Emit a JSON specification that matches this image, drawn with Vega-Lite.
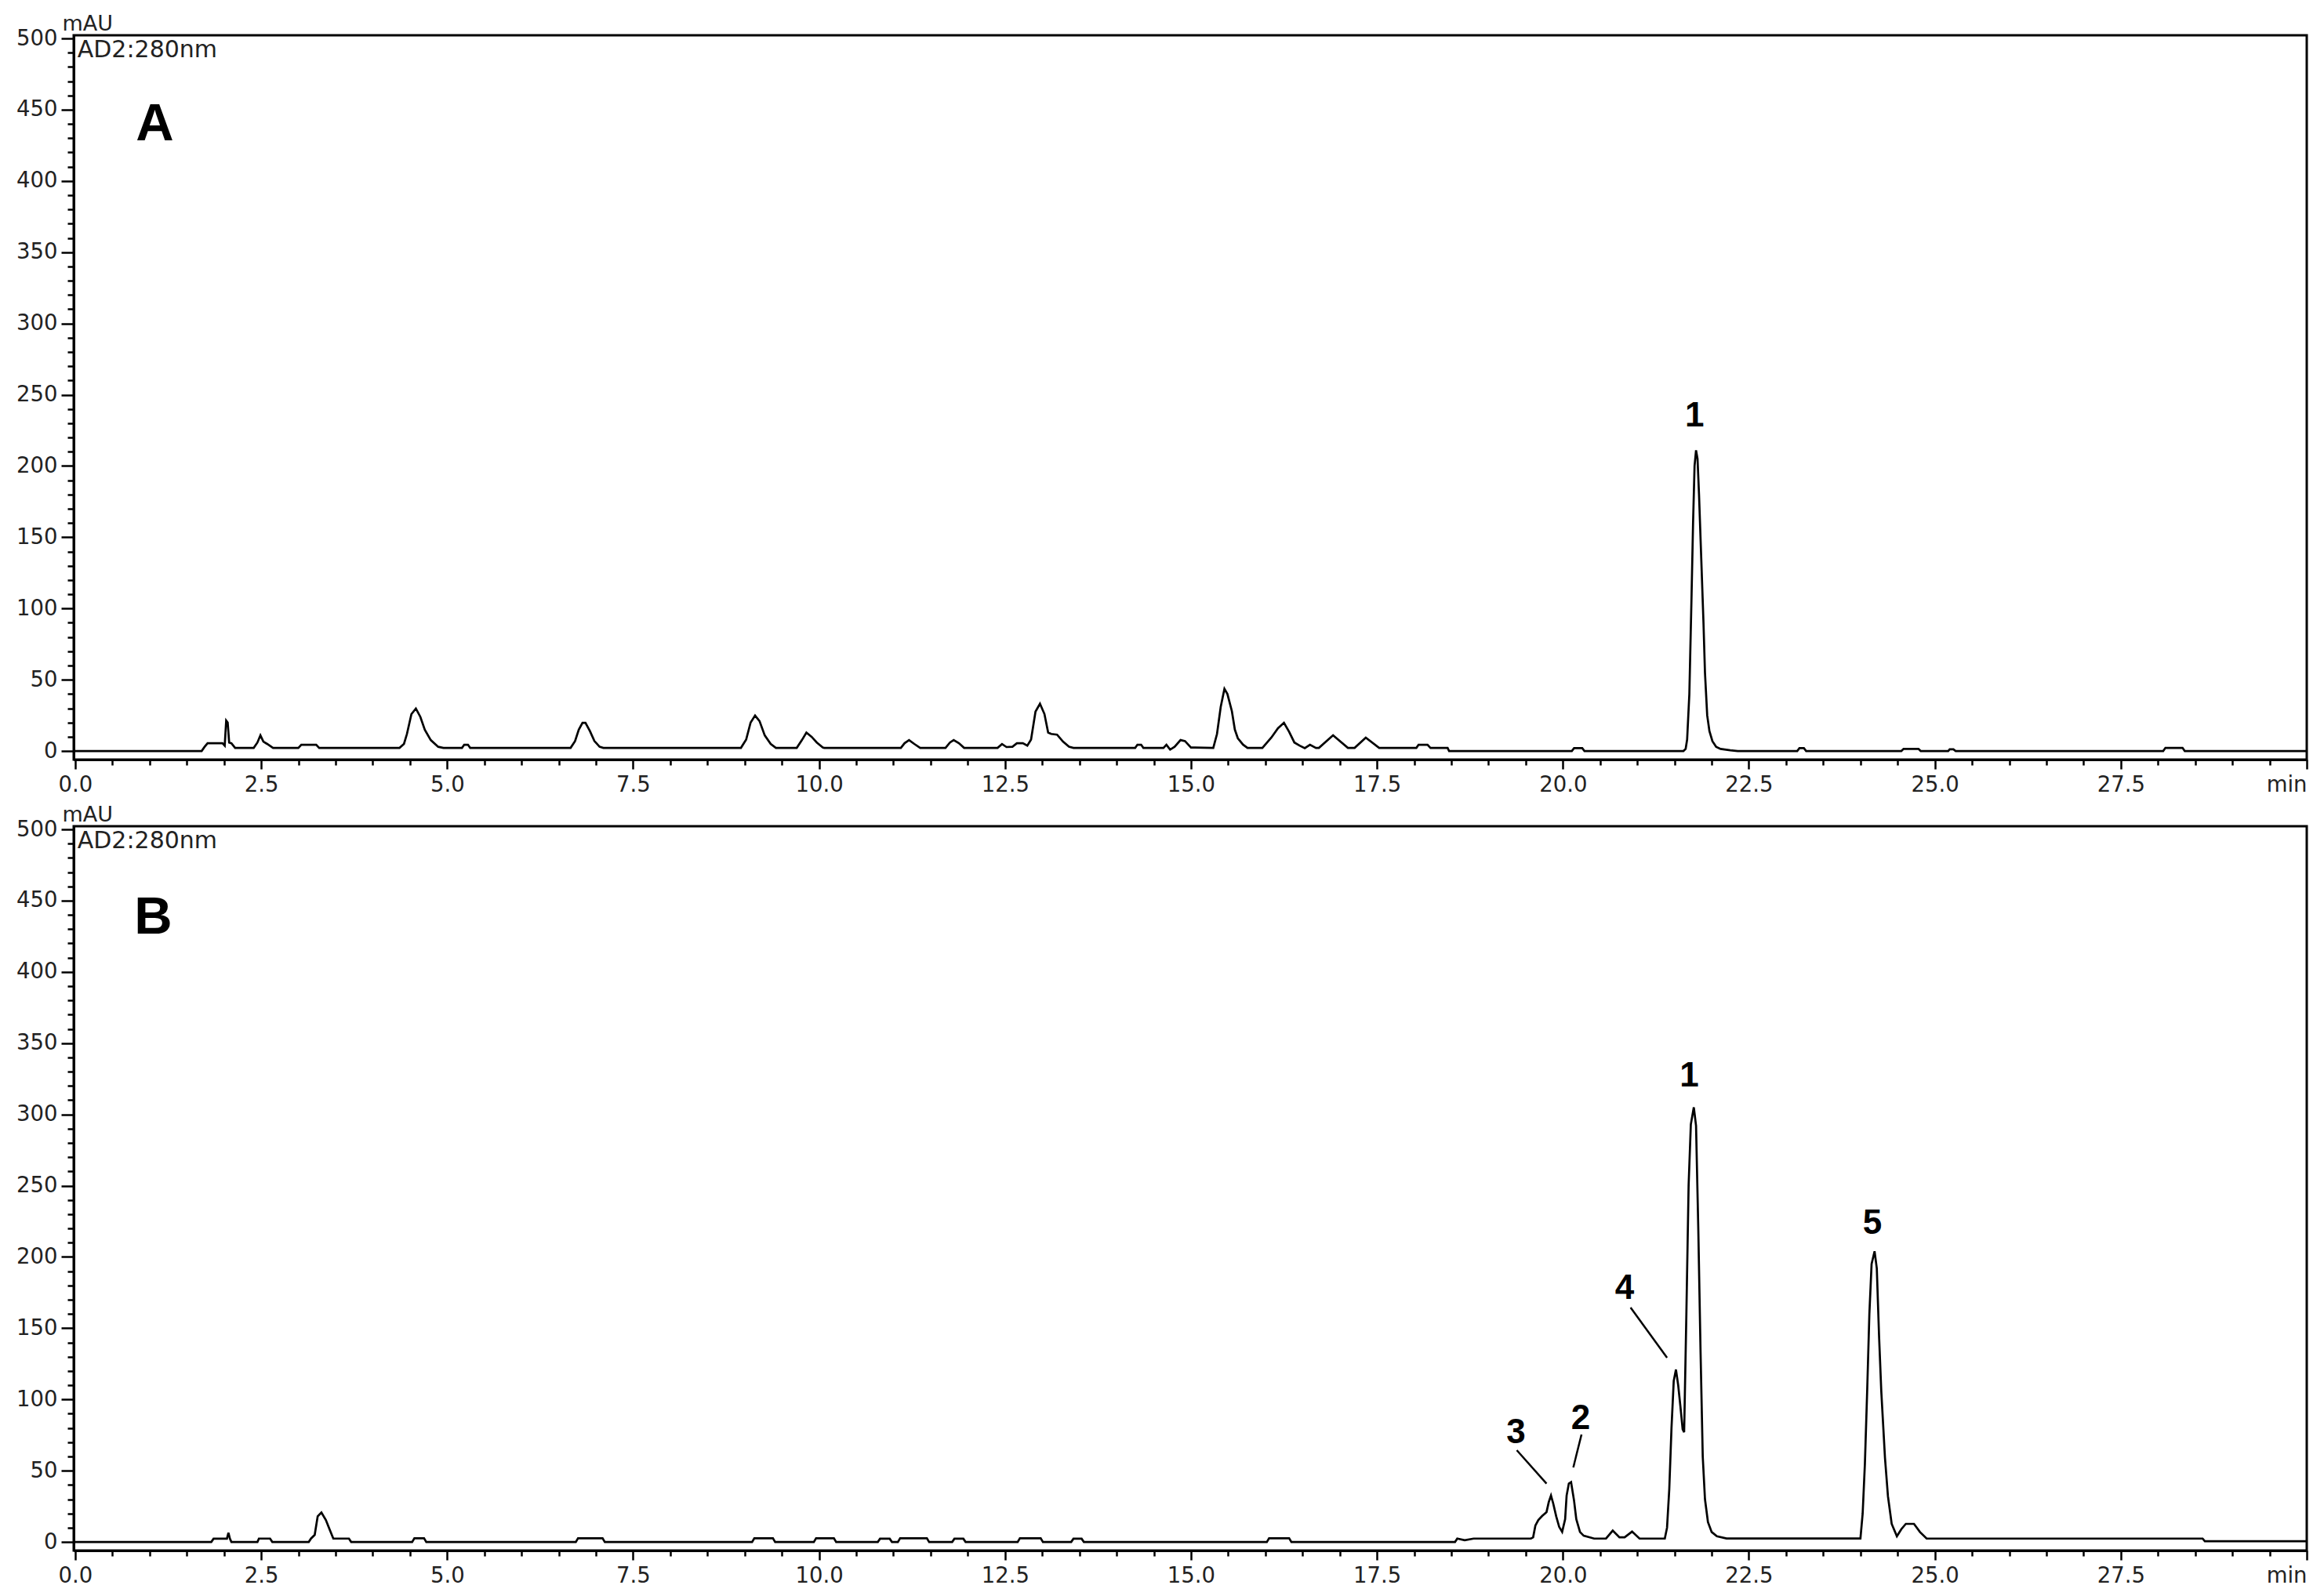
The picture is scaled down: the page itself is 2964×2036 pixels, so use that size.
{
  "$schema": "https://vega.github.io/schema/vega-lite/v6.json",
  "background": "white",
  "padding": {"left": 19, "top": 14, "right": 0, "bottom": 0},
  "bounds": "flush",
  "spacing": 85,
  "config": {
    "view": {"stroke": "black", "strokeWidth": 3},
    "axis": {
      "grid": false,
      "domainColor": "black",
      "domainWidth": 3,
      "tickColor": "black",
      "tickWidth": 2.5,
      "labelFont": "DejaVu Sans",
      "labelFontSize": 27.5,
      "labelColor": "#222222",
      "labelOverlap": false,
      "labelBound": false,
      "labelFlush": false
    }
  },
  "datasets": {
    "A": [
      {"t":0,"v":0},{"t":1.70,"v":0},{"t":1.74,"v":3},{"t":1.78,"v":5.5},{"t":1.98,"v":5.5},{"t":2.01,"v":3.8},{"t":2.03,"v":21.4},{"t":2.05,"v":20},{"t":2.07,"v":6},{"t":2.10,"v":5.5},{"t":2.15,"v":2.2},
      {"t":2.40,"v":2.2},{"t":2.45,"v":6},{"t":2.49,"v":11},{"t":2.53,"v":6.6},{"t":2.58,"v":5},{"t":2.66,"v":2.2},
      {"t":3.00,"v":2.2},{"t":3.04,"v":4.4},{"t":3.24,"v":4.4},{"t":3.28,"v":2.2},
      {"t":4.36,"v":2.2},{"t":4.42,"v":5},{"t":4.46,"v":12},{"t":4.52,"v":25.9},{"t":4.58,"v":29.8},{"t":4.64,"v":24},{"t":4.70,"v":14.9},{"t":4.78,"v":7.7},{"t":4.88,"v":3},{"t":4.95,"v":2.2},
      {"t":5.20,"v":2.2},{"t":5.23,"v":4.4},{"t":5.28,"v":4.4},{"t":5.31,"v":2.2},
      {"t":6.66,"v":2.2},{"t":6.72,"v":7},{"t":6.77,"v":15},{"t":6.82,"v":19.8},{"t":6.86,"v":19.8},{"t":6.92,"v":14},{"t":6.98,"v":7},{"t":7.05,"v":3},{"t":7.10,"v":2.2},
      {"t":8.95,"v":2.2},{"t":9.02,"v":8},{"t":9.08,"v":20},{"t":9.14,"v":24.9},{"t":9.20,"v":21},{"t":9.27,"v":11},{"t":9.35,"v":5},{"t":9.42,"v":2.2},
      {"t":9.70,"v":2.2},{"t":9.77,"v":7.7},{"t":9.83,"v":13},{"t":9.90,"v":10},{"t":9.97,"v":6},{"t":10.05,"v":2.5},{"t":10.07,"v":2.2},
      {"t":11.10,"v":2.2},{"t":11.15,"v":5.5},{"t":11.21,"v":7.7},{"t":11.28,"v":5},{"t":11.36,"v":2.2},
      {"t":11.70,"v":2.2},{"t":11.76,"v":6},{"t":11.81,"v":7.7},{"t":11.88,"v":5.5},{"t":11.95,"v":2.2},
      {"t":12.40,"v":2.2},{"t":12.46,"v":4.9},{"t":12.52,"v":2.8},{"t":12.60,"v":3},{"t":12.66,"v":5.5},{"t":12.74,"v":5.5},{"t":12.80,"v":3.8},{"t":12.85,"v":8},{"t":12.91,"v":27.7},{"t":12.97,"v":33.2},{"t":13.03,"v":26},{"t":13.08,"v":13},{"t":13.12,"v":12},{"t":13.20,"v":11.5},{"t":13.28,"v":6.6},{"t":13.36,"v":3},{"t":13.42,"v":2.2},
      {"t":14.25,"v":2.2},{"t":14.28,"v":4.4},{"t":14.33,"v":4.4},{"t":14.36,"v":2.2},
      {"t":14.63,"v":2.2},{"t":14.67,"v":4.4},{"t":14.72,"v":1},{"t":14.78,"v":3},{"t":14.86,"v":7.7},{"t":14.92,"v":7},{"t":15.00,"v":2.5},
      {"t":15.30,"v":2.2},{"t":15.35,"v":12},{"t":15.40,"v":31},{"t":15.45,"v":43.6},{"t":15.49,"v":40},{"t":15.55,"v":28},{"t":15.59,"v":15},{"t":15.63,"v":9},{"t":15.70,"v":4.5},{"t":15.76,"v":2.2},
      {"t":15.96,"v":2.2},{"t":16.08,"v":9.4},{"t":16.17,"v":16},{"t":16.25,"v":19.8},{"t":16.32,"v":13.5},{"t":16.39,"v":6},{"t":16.46,"v":3.8},{"t":16.53,"v":2},{"t":16.60,"v":4.4},{"t":16.68,"v":2.2},
      {"t":16.72,"v":2.2},{"t":16.91,"v":11},{"t":17.11,"v":2.2},
      {"t":17.20,"v":2.2},{"t":17.35,"v":9.4},{"t":17.53,"v":2.2},
      {"t":18.03,"v":2.2},{"t":18.06,"v":4.4},{"t":18.18,"v":4.4},{"t":18.22,"v":2.2},{"t":18.45,"v":2.2},{"t":18.47,"v":0},
      {"t":20.12,"v":0},{"t":20.15,"v":2},{"t":20.26,"v":2},{"t":20.29,"v":0},
      {"t":21.62,"v":0},{"t":21.65,"v":1.5},{"t":21.67,"v":8},{"t":21.70,"v":40},{"t":21.73,"v":110},{"t":21.75,"v":160},{"t":21.77,"v":200},{"t":21.79,"v":211},{"t":21.81,"v":205},{"t":21.83,"v":180},{"t":21.86,"v":135},{"t":21.89,"v":90},{"t":21.91,"v":55},{"t":21.94,"v":25},{"t":21.97,"v":14},{"t":22.01,"v":7},{"t":22.06,"v":3},{"t":22.12,"v":1.5},{"t":22.25,"v":0.5},{"t":22.35,"v":0},
      {"t":23.15,"v":0},{"t":23.18,"v":2},{"t":23.24,"v":2},{"t":23.27,"v":0},
      {"t":24.55,"v":0},{"t":24.58,"v":1.5},{"t":24.78,"v":1.5},{"t":24.81,"v":0},
      {"t":25.18,"v":0},{"t":25.20,"v":1.2},{"t":25.25,"v":1.2},{"t":25.28,"v":0},
      {"t":28.07,"v":0},{"t":28.10,"v":2.2},{"t":28.33,"v":2.2},{"t":28.36,"v":0},{"t":30,"v":0}
    ],
    "B": [
      {"t":0,"v":0},{"t":1.83,"v":0},{"t":1.86,"v":2.3},{"t":2.04,"v":2.3},{"t":2.06,"v":6.5},{"t":2.08,"v":2.3},{"t":2.10,"v":0},
      {"t":2.45,"v":0},{"t":2.47,"v":2.4},{"t":2.62,"v":2.4},{"t":2.65,"v":0},
      {"t":3.14,"v":0},{"t":3.17,"v":2.4},{"t":3.22,"v":5},{"t":3.26,"v":18},{"t":3.31,"v":20.7},{"t":3.37,"v":15.4},{"t":3.42,"v":8.8},{"t":3.47,"v":2.4},{"t":3.68,"v":2.4},{"t":3.71,"v":0},
      {"t":4.53,"v":0},{"t":4.56,"v":2.6},{"t":4.69,"v":2.6},{"t":4.72,"v":0},
      {"t":6.73,"v":0},{"t":6.76,"v":2.6},{"t":7.09,"v":2.6},{"t":7.12,"v":0},
      {"t":9.10,"v":0},{"t":9.13,"v":2.6},{"t":9.38,"v":2.6},{"t":9.41,"v":0},
      {"t":9.93,"v":0},{"t":9.96,"v":2.6},{"t":10.20,"v":2.6},{"t":10.23,"v":0},
      {"t":10.79,"v":0},{"t":10.82,"v":2.3},{"t":10.95,"v":2.3},{"t":10.98,"v":0},
      {"t":11.06,"v":0},{"t":11.09,"v":2.6},{"t":11.45,"v":2.6},{"t":11.48,"v":0},
      {"t":11.79,"v":0},{"t":11.82,"v":2.3},{"t":11.94,"v":2.3},{"t":11.97,"v":0},
      {"t":12.67,"v":0},{"t":12.70,"v":2.6},{"t":12.98,"v":2.6},{"t":13.01,"v":0},
      {"t":13.39,"v":0},{"t":13.42,"v":2.3},{"t":13.53,"v":2.3},{"t":13.56,"v":0},
      {"t":16.02,"v":0},{"t":16.05,"v":2.6},{"t":16.32,"v":2.6},{"t":16.35,"v":0},
      {"t":18.55,"v":0},{"t":18.58,"v":2.4},{"t":18.68,"v":1.2},{"t":18.80,"v":2.4},
      {"t":19.57,"v":2.4},{"t":19.60,"v":3.3},{"t":19.63,"v":11.5},{"t":19.67,"v":15.4},{"t":19.72,"v":18.2},{"t":19.78,"v":21},{"t":19.81,"v":28},{"t":19.84,"v":32.6},{"t":19.87,"v":27},{"t":19.91,"v":18},{"t":19.95,"v":10.6},{"t":19.99,"v":7.1},
      {"t":20.03,"v":16},{"t":20.05,"v":32.6},{"t":20.08,"v":41},{"t":20.11,"v":42},{"t":20.15,"v":29},{"t":20.18,"v":16},{"t":20.23,"v":7},{"t":20.28,"v":4.4},{"t":20.42,"v":2.4},
      {"t":20.58,"v":2.4},{"t":20.67,"v":8},{"t":20.76,"v":3.3},{"t":20.83,"v":3.3},{"t":20.93,"v":7.3},{"t":21.03,"v":2.4},
      {"t":21.37,"v":2.4},{"t":21.40,"v":10},{"t":21.43,"v":37},{"t":21.46,"v":80},{"t":21.49,"v":113},{"t":21.52,"v":121},{"t":21.55,"v":110},{"t":21.58,"v":95},{"t":21.61,"v":79},{"t":21.63,"v":77},
      {"t":21.66,"v":160},{"t":21.69,"v":250},{"t":21.72,"v":293},{"t":21.76,"v":305},{"t":21.79,"v":292},{"t":21.82,"v":220},{"t":21.85,"v":135},{"t":21.88,"v":60},{"t":21.91,"v":30},{"t":21.95,"v":14},{"t":22.00,"v":7},{"t":22.07,"v":4},{"t":22.20,"v":2.5},
      {"t":24.00,"v":2.5},{"t":24.03,"v":20},{"t":24.06,"v":55},{"t":24.09,"v":105},{"t":24.12,"v":160},{"t":24.15,"v":195},{"t":24.19,"v":204},{"t":24.22,"v":192},{"t":24.25,"v":145},{"t":24.28,"v":106},{"t":24.33,"v":59},{"t":24.37,"v":32},{"t":24.42,"v":12.7},{"t":24.49,"v":4},{"t":24.55,"v":9},{"t":24.61,"v":12.7},{"t":24.72,"v":12.7},{"t":24.80,"v":7},{"t":24.89,"v":2.4},
      {"t":28.60,"v":2.4},{"t":28.63,"v":0.5},{"t":30,"v":0.5}
    ],
    "ann": [
      {"panel":"A","kind":"info","t":0.03,"v":486.8,"label":"AD2:280nm"},
      {"panel":"B","kind":"info","t":0.03,"v":486.8,"label":"AD2:280nm"},
      {"panel":"A","kind":"panel","t":1.07,"v":428.5,"label":"A"},
      {"panel":"B","kind":"panel","t":1.05,"v":427,"label":"B"},
      {"panel":"A","kind":"peak","t":21.77,"v":228,"label":"1"},
      {"panel":"B","kind":"peak","t":21.7,"v":319.5,"label":"1"},
      {"panel":"B","kind":"peak","t":24.16,"v":216,"label":"5"},
      {"panel":"B","kind":"peak","t":20.83,"v":170.5,"label":"4"},
      {"panel":"B","kind":"peak","t":20.24,"v":79.5,"label":"2"},
      {"panel":"B","kind":"peak","t":19.37,"v":69.5,"label":"3"}
    ],
    "leaders": [
      {"t":20.91,"v":164.5,"t2":21.40,"v2":129.3},
      {"t":20.25,"v":75.4,"t2":20.14,"v2":52.3},
      {"t":19.38,"v":64.4,"t2":19.78,"v2":41}
    ]
  },
  "vconcat": [
    {
      "width": 2848,
      "height": 924,
      "encoding": {
        "x": {"field": "t", "type": "quantitative", "scale": {"domain": [-0.02, 30], "nice": false, "zero": false},
          "axis": {"title": null,
            "values": [0,0.5,1,1.5,2,2.5,3,3.5,4,4.5,5,5.5,6,6.5,7,7.5,8,8.5,9,9.5,10,10.5,11,11.5,12,12.5,13,13.5,14,14.5,15,15.5,16,16.5,17,17.5,18,18.5,19,19.5,20,20.5,21,21.5,22,22.5,23,23.5,24,24.5,25,25.5,26,26.5,27,27.5,28,28.5,29,29.5,30],
            "tickSize": {"condition": {"test": "datum.value % 2.5 == 0", "value": 12}, "value": 7},
            "labelExpr": "datum.value % 2.5 == 0 ? (datum.value == 30 ? 'min' : format(datum.value, '.1f')) : ''",
            "labelAlign": {"condition": {"test": "datum.value == 30", "value": "right"}, "value": "center"},
            "labelPadding": 6}},
        "y": {"field": "v", "type": "quantitative", "scale": {"domain": [-6, 502.2], "nice": false, "zero": false},
          "axis": {"title": "mAU", "titleAngle": 0, "titleAlign": "left", "titleBaseline": "alphabetic", "titleX": -15, "titleY": -7,
            "titleFont": "DejaVu Sans", "titleFontSize": 27, "titleFontWeight": "normal", "titleColor": "#222222",
            "values": [0,10,20,30,40,50,60,70,80,90,100,110,120,130,140,150,160,170,180,190,200,210,220,230,240,250,260,270,280,290,300,310,320,330,340,350,360,370,380,390,400,410,420,430,440,450,460,470,480,490,500],
            "tickSize": {"condition": {"test": "datum.value % 50 == 0", "value": 16}, "value": 8},
            "labelExpr": "datum.value % 50 == 0 ? datum.label : ''",
            "labelPadding": 5}}
      },
      "layer": [
        {"data": {"name": "A"}, "mark": {"type": "line", "color": "black", "strokeWidth": 2.7}},
        {"data": {"name": "ann"}, "transform": [{"filter": "datum.panel == 'A' && datum.kind == 'info'"}],
          "mark": {"type": "text", "align": "left", "baseline": "alphabetic", "font": "DejaVu Sans", "fontSize": 30, "color": "#222222"},
          "encoding": {"text": {"field": "label"}}},
        {"data": {"name": "ann"}, "transform": [{"filter": "datum.panel == 'A' && datum.kind == 'panel'"}],
          "mark": {"type": "text", "align": "center", "baseline": "alphabetic", "font": "Liberation Sans", "fontWeight": "bold", "fontSize": 67, "color": "black"},
          "encoding": {"text": {"field": "label"}}},
        {"data": {"name": "ann"}, "transform": [{"filter": "datum.panel == 'A' && datum.kind == 'peak'"}],
          "mark": {"type": "text", "align": "center", "baseline": "alphabetic", "font": "Liberation Sans", "fontWeight": "bold", "fontSize": 44, "color": "black"},
          "encoding": {"text": {"field": "label"}}}
      ]
    },
    {
      "width": 2848,
      "height": 924,
      "encoding": {
        "x": {"field": "t", "type": "quantitative", "scale": {"domain": [-0.02, 30], "nice": false, "zero": false},
          "axis": {"title": null,
            "values": [0,0.5,1,1.5,2,2.5,3,3.5,4,4.5,5,5.5,6,6.5,7,7.5,8,8.5,9,9.5,10,10.5,11,11.5,12,12.5,13,13.5,14,14.5,15,15.5,16,16.5,17,17.5,18,18.5,19,19.5,20,20.5,21,21.5,22,22.5,23,23.5,24,24.5,25,25.5,26,26.5,27,27.5,28,28.5,29,29.5,30],
            "tickSize": {"condition": {"test": "datum.value % 2.5 == 0", "value": 12}, "value": 7},
            "labelExpr": "datum.value % 2.5 == 0 ? (datum.value == 30 ? 'min' : format(datum.value, '.1f')) : ''",
            "labelAlign": {"condition": {"test": "datum.value == 30", "value": "right"}, "value": "center"},
            "labelPadding": 6}},
        "y": {"field": "v", "type": "quantitative", "scale": {"domain": [-6, 502.2], "nice": false, "zero": false},
          "axis": {"title": "mAU", "titleAngle": 0, "titleAlign": "left", "titleBaseline": "alphabetic", "titleX": -15, "titleY": -7,
            "titleFont": "DejaVu Sans", "titleFontSize": 27, "titleFontWeight": "normal", "titleColor": "#222222",
            "values": [0,10,20,30,40,50,60,70,80,90,100,110,120,130,140,150,160,170,180,190,200,210,220,230,240,250,260,270,280,290,300,310,320,330,340,350,360,370,380,390,400,410,420,430,440,450,460,470,480,490,500],
            "tickSize": {"condition": {"test": "datum.value % 50 == 0", "value": 16}, "value": 8},
            "labelExpr": "datum.value % 50 == 0 ? datum.label : ''",
            "labelPadding": 5}}
      },
      "layer": [
        {"data": {"name": "B"}, "mark": {"type": "line", "color": "black", "strokeWidth": 2.7}},
        {"data": {"name": "leaders"}, "mark": {"type": "rule", "color": "black", "strokeWidth": 2.5},
          "encoding": {"x2": {"field": "t2"}, "y2": {"field": "v2"}}},
        {"data": {"name": "ann"}, "transform": [{"filter": "datum.panel == 'B' && datum.kind == 'info'"}],
          "mark": {"type": "text", "align": "left", "baseline": "alphabetic", "font": "DejaVu Sans", "fontSize": 30, "color": "#222222"},
          "encoding": {"text": {"field": "label"}}},
        {"data": {"name": "ann"}, "transform": [{"filter": "datum.panel == 'B' && datum.kind == 'panel'"}],
          "mark": {"type": "text", "align": "center", "baseline": "alphabetic", "font": "Liberation Sans", "fontWeight": "bold", "fontSize": 67, "color": "black"},
          "encoding": {"text": {"field": "label"}}},
        {"data": {"name": "ann"}, "transform": [{"filter": "datum.panel == 'B' && datum.kind == 'peak'"}],
          "mark": {"type": "text", "align": "center", "baseline": "alphabetic", "font": "Liberation Sans", "fontWeight": "bold", "fontSize": 44, "color": "black"},
          "encoding": {"text": {"field": "label"}}}
      ]
    }
  ]
}
